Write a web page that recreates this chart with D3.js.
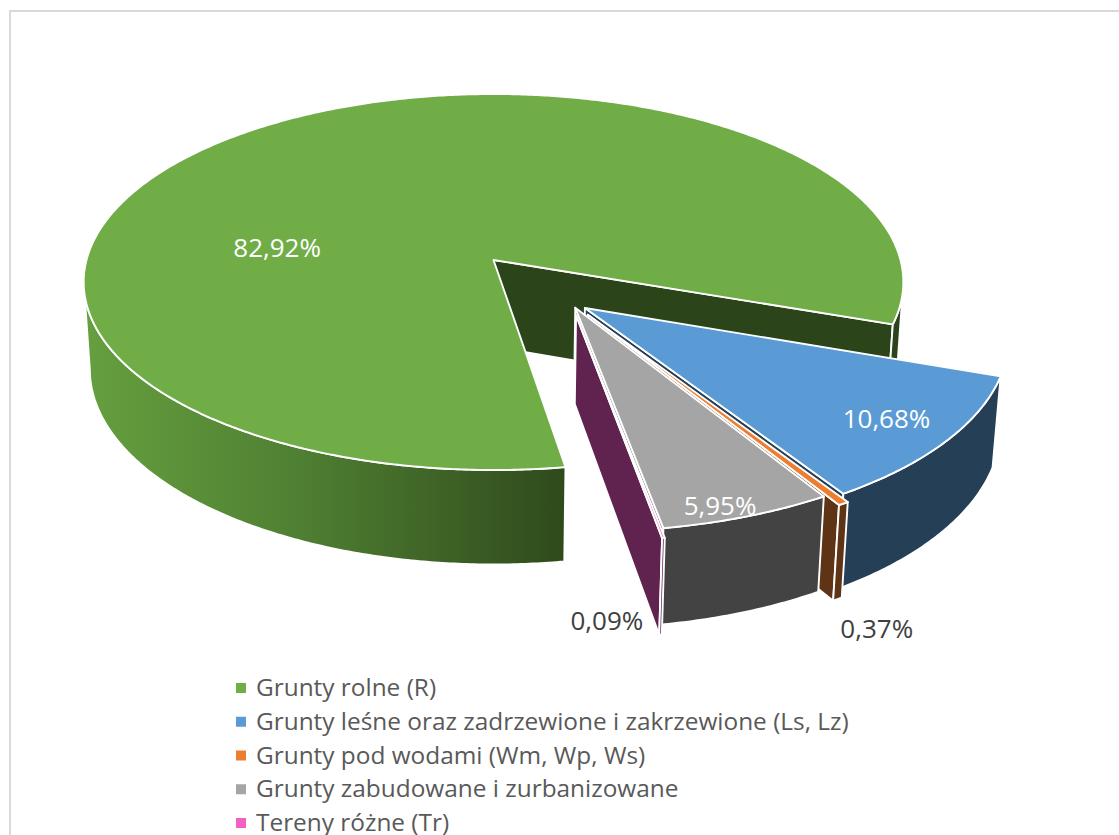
<!DOCTYPE html>
<html><head><meta charset="utf-8">
<script src="https://cdn.jsdelivr.net/npm/d3@7/dist/d3.min.js"></script>
<style>html,body{margin:0;padding:0;background:#fff;overflow:hidden}svg{display:block}text{font-family:"Open Sans","Noto Sans",sans-serif}</style>
</head><body><svg id="c" width="1119" height="835"></svg>
<script>
const categories = ["Grunty rolne (R)","Grunty leśne oraz zadrzewione i zakrzewione (Ls, Lz)","Grunty pod wodami (Wm, Wp, Ws)","Grunty zabudowane i zurbanizowane","Tereny różne (Tr)"];
const values = [82.92,10.68,0.37,5.95,0.09];
const valueLabels = ["82,92%","10,68%","0,37%","5,95%","0,09%"];
const topColors = ["#70ad47","#5b9bd5","#ed7d31","#a5a5a5","#f45fc4"];
const wallColors = ["#2b4419","#243f56","#5f3416","#434343","#60234f"];
const labelColors = ["#fff","#fff","#404040","#fff","#404040"];
// slice displacement and label anchor, in units of the pie radius
const explode = [[0,0],[.218,.251],[.224,.285],[.195,.25],[.196,.288]];
const labelAnchor = [[-.536,-.071],[.66,.524],[.54,1.326],[.287,.895],[.031,1.294]];

const W=1119,H=835, cx=493.5, cy=260, Rx=407, Ry=185.4, persp=.1171, sink=.015, depth=88;
const sx=d3.scaleLinear().domain([-1,1]).range([cx-Rx,cx+Rx]);
const sy=d3.scaleLinear().domain([-1,1]).range([cy-Ry,cy+Ry]);
const svg=d3.select("#c");
const rad=d=>d*Math.PI/180;
function proj(X,Y,Z){
  const w=1-persp*Y+sink*Z;
  return [sx(X/w), sy(Y/w)+depth*Z/w];
}
const arcs=d3.pie().sort(null).value(d=>d).startAngle(rad(171)).endAngle(rad(531))(values);
const line=d3.line();
const polar=(a,e)=>[Math.sin(a)+e[0],-Math.cos(a)+e[1]];
const sample=(a0,a1)=>{const n=Math.max(2,Math.ceil(Math.abs(a1-a0)/rad(.5)));return d3.range(n+1).map(i=>a0+(a1-a0)*i/n)};

const defs=svg.append("defs");
const g0=defs.append("linearGradient").attr("id","gw").attr("gradientUnits","userSpaceOnUse")
  .attr("x1",sx(-1)).attr("x2",sx(.17)).attr("y1",0).attr("y2",0);
g0.append("stop").attr("offset",0).attr("stop-color","#659f3f");
g0.append("stop").attr("offset",.45).attr("stop-color","#4f7f32");
g0.append("stop").attr("offset",1).attr("stop-color","#2f4a1c");

svg.append("rect").attr("x",10).attr("y",11).attr("width",1140).attr("height",860)
  .attr("fill","#fff").attr("stroke","#d9d9d9").attr("stroke-width",2);

const vis0=rad(96.7), vis1=rad(263.3);
const layers=svg.selectAll("g.slice").data(arcs).join("g").attr("class","slice");
layers.each(function(d,i){
  const g=d3.select(this), e=explode[i];
  const stroke={stroke:"#fff","stroke-width":1.9,"stroke-linejoin":"round"};
  const put=(pts,fill)=>{const p=g.append("path").attr("d",line(pts)+"Z").attr("fill",fill);
    for(const k in stroke)p.attr(k,stroke[k]);};
  // end wall
  const endP=polar(d.endAngle,e);
  put([proj(e[0],e[1],0),proj(endP[0],endP[1],0),proj(endP[0],endP[1],1),proj(e[0],e[1],1)],wallColors[i]);
  // outer wall: the parts of the rim that face the viewer
  [[0,0],[2*Math.PI,2*Math.PI]].forEach(([sh])=>{
    const a0=Math.max(d.startAngle,vis0+sh), a1=Math.min(d.endAngle,vis1+sh);
    if(a1<=a0)return;
    const as=sample(a0,a1);
    const top=as.map(a=>{const q=polar(a,e);return proj(q[0],q[1],0)});
    const bot=as.slice().reverse().map(a=>{const q=polar(a,e);return proj(q[0],q[1],1)});
    put(top.concat(bot), (i===0&&sh===0)?"url(#gw)":wallColors[i]);
  });
  // top face
  const rim=sample(d.startAngle,d.endAngle).map(a=>{const q=polar(a,e);return proj(q[0],q[1],0)});
  put([proj(e[0],e[1],0)].concat(rim),topColors[i]);
});

svg.selectAll("text.val").data(arcs).join("text").attr("class","val")
  .attr("text-anchor","middle").attr("dominant-baseline","central")
  .attr("font-size",26)
  .attr("fill",(d,i)=>labelColors[i])
  .attr("x",(d,i)=>proj(labelAnchor[i][0]+explode[i][0],labelAnchor[i][1]+explode[i][1],0)[0])
  .attr("y",(d,i)=>proj(labelAnchor[i][0]+explode[i][0],labelAnchor[i][1]+explode[i][1],0)[1])
  .text((d,i)=>valueLabels[i]);

const ly=d3.scalePoint().domain(categories).range([688,823]);
const leg=svg.selectAll("g.leg").data(categories).join("g").attr("class","leg")
  .attr("transform",d=>`translate(236,${ly(d)})`);
leg.append("rect").attr("x",0).attr("y",-5).attr("width",10).attr("height",10).attr("fill",(d,i)=>topColors[i]);
leg.append("text").attr("x",20).attr("y",8).attr("font-size",24.4).attr("fill","#595959").text(d=>d);
</script></body></html>
